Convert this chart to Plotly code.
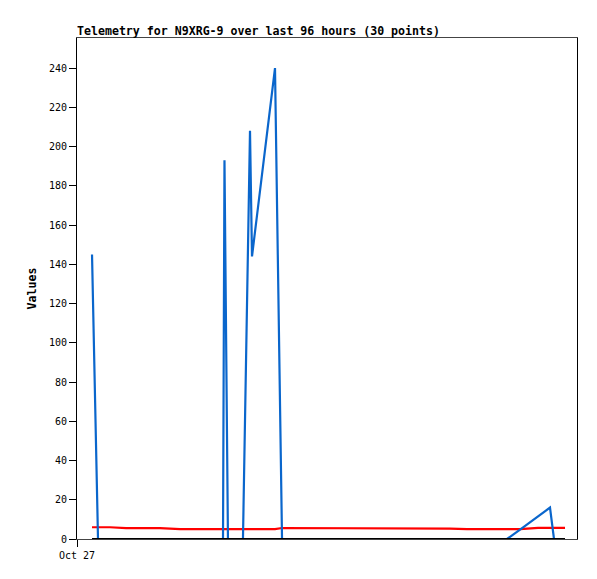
import plotly.graph_objects as go

# Timestamps of the 30 telemetry points
times = [
    "2024-10-27 02:53", "2024-10-27 04:02", "2024-10-27 06:20", "2024-10-27 09:25",
    "2024-10-27 14:01", "2024-10-27 15:56", "2024-10-27 19:47", "2024-10-27 23:37",
    "2024-10-28 04:02", "2024-10-28 04:19", "2024-10-28 04:59", "2024-10-28 07:52",
    "2024-10-28 09:13", "2024-10-28 09:36", "2024-10-28 14:01", "2024-10-28 15:22",
    "2024-10-28 20:44", "2024-10-29 04:25", "2024-10-29 10:11", "2024-10-29 12:52",
    "2024-10-29 19:47", "2024-10-29 23:37", "2024-10-30 02:53", "2024-10-30 07:18",
    "2024-10-30 10:34", "2024-10-30 13:04", "2024-10-30 16:31", "2024-10-30 18:49",
    "2024-10-30 19:35", "2024-10-30 21:42",
]

# Series values
blue_vals = [145, 0, 0, 0, 0, 0, 0, 0, 0, 193, 0, 0, 208, 144, 240, 0,
             0, 0, 0, 0, 0, 0, 0, 0, 0, 4.8, 11.5, 16, 0, 0]
red_vals = [6.0, 6.0, 6.0, 5.5, 5.5, 5.5, 5.0, 5.0, 5.0, 5.0, 5.0, 5.0, 5.0, 5.0, 5.0, 5.6,
            5.6, 5.6, 5.6, 5.3, 5.3, 5.3, 5.0, 5.0, 5.0, 5.0, 5.7, 5.7, 5.7, 5.7]
black_vals = [0] * 30

y_ticks = list(range(0, 241, 20))
x_tick_vals = ["2024-10-27 00:00"]
x_tick_text = ["Oct 27"]
x_range = ["2024-10-27 00:00", "2024-10-31 00:00"]
y_range = [0, 255.3]

title_text = "Telemetry for N9XRG-9 over last 96 hours (30 points)"

mono = "DejaVu Sans Mono"

# page body has an 8px margin; compensate so the plot lands where the reference has it
W, H = 589, 571

fig = go.Figure()
fig.add_trace(go.Scatter(x=times, y=red_vals, mode="lines",
                         line=dict(color="#ff0000", width=2.2), showlegend=False))
fig.add_trace(go.Scatter(x=times, y=blue_vals, mode="lines",
                         line=dict(color="#0a66cc", width=2.2), showlegend=False))
fig.add_trace(go.Scatter(x=times, y=black_vals, mode="lines",
                         line=dict(color="#000000", width=2.2), showlegend=False))

fig.update_layout(
    width=W, height=H,
    margin=dict(l=69, r=20, t=30, b=40),
    paper_bgcolor="white", plot_bgcolor="white",
    title=dict(text="<b>" + title_text + "</b>", x=69/W, xanchor="left",
               xref="container", y=1 - 23/H, yanchor="middle", yref="container",
               font=dict(family=mono, size=11.6, color="#000")),
    xaxis=dict(range=x_range, type="date", tickmode="array", tickvals=x_tick_vals,
               ticktext=x_tick_text, ticks="outside", ticklen=7, tickcolor="#000",
               showgrid=False, zeroline=False, showline=True, linecolor="#444",
               linewidth=1, mirror=True,
               tickfont=dict(family=mono, size=10, color="#000")),
    yaxis=dict(range=y_range, tickmode="array", tickvals=y_ticks, ticks="outside",
               ticklen=7, tickcolor="#000", showgrid=False, zeroline=False,
               showline=True, linecolor="#000", linewidth=1, mirror=True,
               tickfont=dict(family=mono, size=10, color="#000")),
    annotations=[dict(text="<b>Values</b>", xref="paper", yref="paper",
                      x=(31-77)/500, y=0.5, textangle=-90, showarrow=False,
                      xanchor="center", yanchor="middle",
                      font=dict(family=mono, size=11.6, color="#000"))],
)

fig.write_html("out.html")
